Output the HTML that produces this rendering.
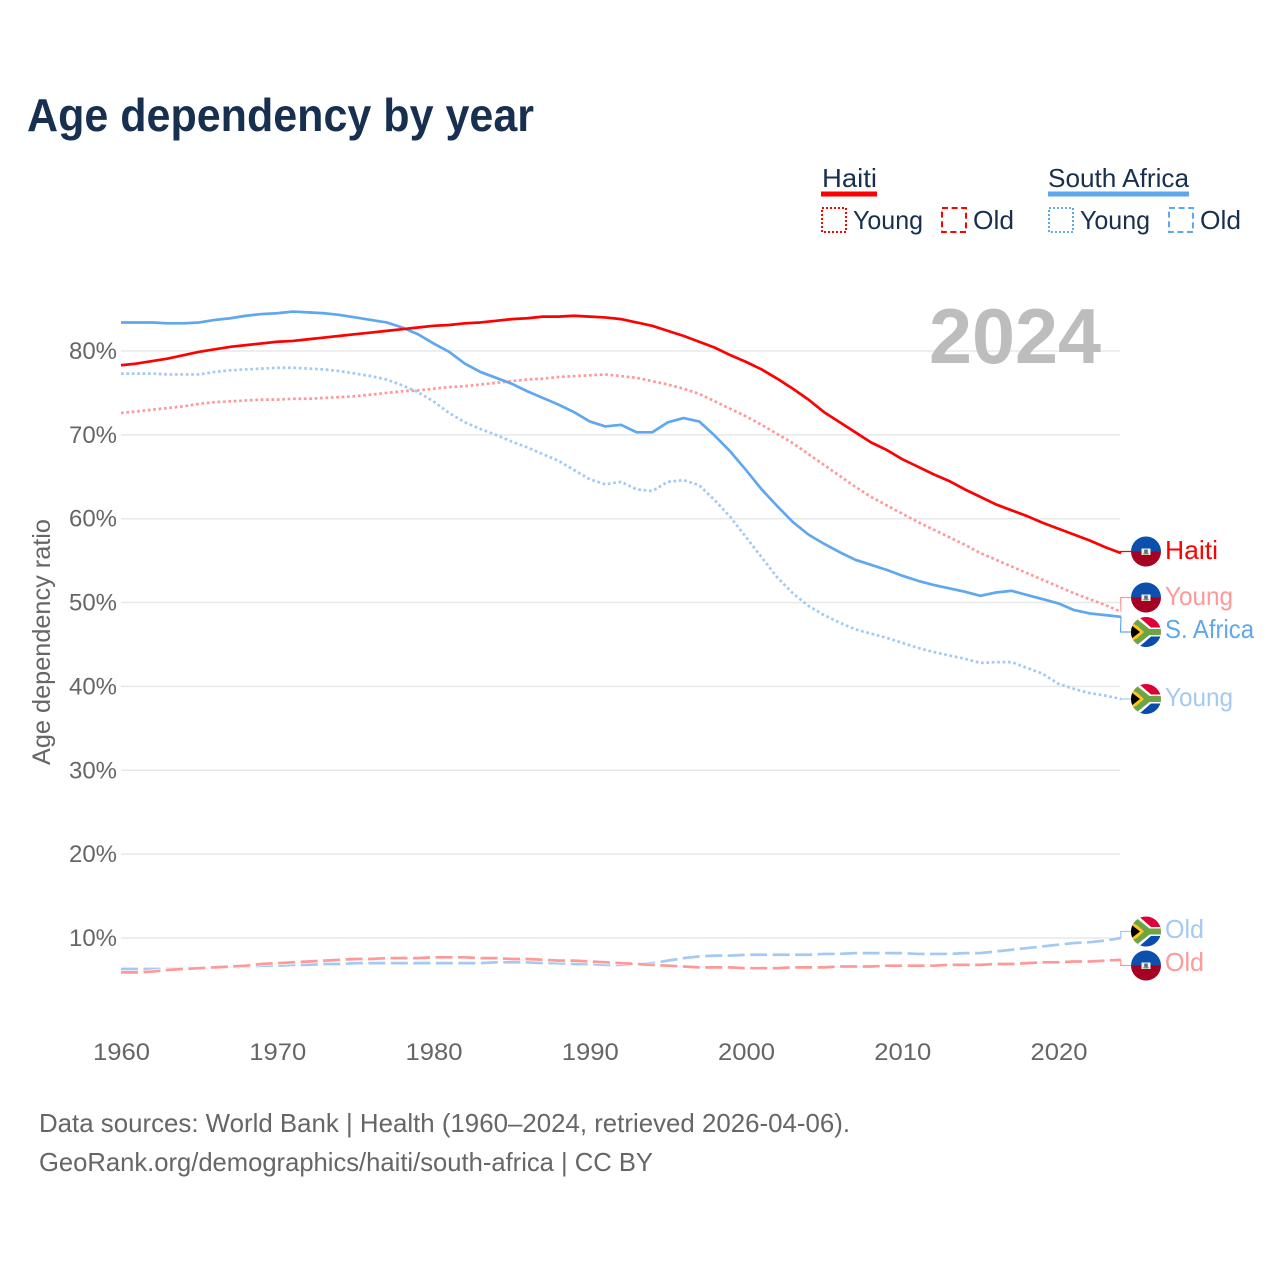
<!DOCTYPE html>
<html lang="en">
<head>
<meta charset="utf-8">
<title>Age dependency by year</title>
<style>
html,body{margin:0;padding:0;background:#fff;}
svg{display:block;font-family:"Liberation Sans",sans-serif;}
</style>
</head>
<body>
<svg id="chart" xmlns="http://www.w3.org/2000/svg" width="1280" height="1280" viewBox="0 0 1280 1280">
<defs>
<clipPath id="flag-clip"><circle cx="0" cy="0" r="15"/></clipPath>
<g id="flag-haiti" clip-path="url(#flag-clip)">
<rect x="-15" y="-15" width="30" height="15" fill="#0a50ac"/>
<rect x="-15" y="0" width="30" height="15" fill="#a60022"/>
<rect x="-4.5" y="-3" width="9" height="6.5" fill="#f4f4f0"/>
<rect x="-1.8" y="-2" width="3.6" height="4.6" fill="#55707a"/>
<rect x="-2.8" y="1.6" width="5.6" height="1.4" fill="#8a9a50"/>
</g>
<g id="flag-south-africa" clip-path="url(#flag-clip)">
<rect x="-15" y="-15" width="30" height="15" fill="#de0036"/>
<rect x="-15" y="0" width="30" height="15" fill="#0a4cae"/>
<path d="M-15-15 L-7-15 L5-4.5 L15-4.5 L15 4.5 L5 4.5 L-7 15 L-15 15Z" fill="#fff"/>
<path d="M-15-13 L-9-13 L3.5-3 L15-3 L15 3 L3.5 3 L-9 13 L-15 13Z" fill="#6da544"/>
<path d="M-15-9.5 L-8.5-6 L-2 0 L-8.5 6 L-15 9.5Z" fill="#ffc425"/>
<path d="M-15-7 L-6 0 L-15 7Z" fill="#000"/>
</g>
</defs>

<text x="27" y="131" font-size="46" font-weight="700" fill="#18304f" textLength="507" lengthAdjust="spacingAndGlyphs">Age dependency by year</text>

<g fill="#18304f" font-size="26">
<text x="822" y="187" textLength="55" lengthAdjust="spacingAndGlyphs">Haiti</text>
<rect x="821" y="191.5" width="56" height="5" fill="#ff0000"/>
<text x="1048" y="187" textLength="141" lengthAdjust="spacingAndGlyphs">South Africa</text>
<rect x="1048" y="191.5" width="141" height="5" fill="#5fa7ee"/>
<rect x="822" y="208" width="24" height="24" fill="none" stroke="#ff0000" stroke-width="2" stroke-dasharray="2 2"/>
<text x="853" y="229" textLength="70" lengthAdjust="spacingAndGlyphs">Young</text>
<rect x="942" y="208" width="24" height="24" fill="none" stroke="#ff0000" stroke-width="2" stroke-dasharray="6 3.6"/>
<text x="973" y="229" textLength="41" lengthAdjust="spacingAndGlyphs">Old</text>
<rect x="1049" y="208" width="24" height="24" fill="none" stroke="#5fa7ee" stroke-width="2" stroke-dasharray="2 2"/>
<text x="1080" y="229" textLength="70" lengthAdjust="spacingAndGlyphs">Young</text>
<rect x="1169" y="208" width="24" height="24" fill="none" stroke="#5fa7ee" stroke-width="2" stroke-dasharray="6 3.6"/>
<text x="1200" y="229" textLength="41" lengthAdjust="spacingAndGlyphs">Old</text>
</g>

<g id="grid"></g>
<text x="929" y="363" font-size="78" font-weight="700" fill="#bdbdbd" textLength="172" lengthAdjust="spacingAndGlyphs">2024</text>
<g id="x-axis"></g>
<g id="y-axis"></g>
<text transform="translate(50,642) rotate(-90)" text-anchor="middle" font-size="25" fill="#666666" textLength="246" lengthAdjust="spacingAndGlyphs">Age dependency ratio</text>
<g id="series"></g>

<g font-size="26">
<use href="#flag-haiti" x="1146" y="551.5"/>
<text x="1165" y="559" fill="#ff0000" textLength="53" lengthAdjust="spacingAndGlyphs">Haiti</text>
<use href="#flag-haiti" x="1146" y="597.5"/>
<text x="1165" y="605" fill="#ff9999" textLength="68" lengthAdjust="spacingAndGlyphs">Young</text>
<use href="#flag-south-africa" x="1146" y="632"/>
<text x="1165" y="638" fill="#5fa7ee" textLength="89" lengthAdjust="spacingAndGlyphs">S. Africa</text>
<use href="#flag-south-africa" x="1146" y="699"/>
<text x="1165" y="706" fill="#a4c9f2" textLength="68" lengthAdjust="spacingAndGlyphs">Young</text>
<use href="#flag-south-africa" x="1146" y="931.5"/>
<text x="1165" y="938" fill="#a4c9f2" textLength="39" lengthAdjust="spacingAndGlyphs">Old</text>
<use href="#flag-haiti" x="1146" y="965.5"/>
<text x="1165" y="971" fill="#ff9999" textLength="39" lengthAdjust="spacingAndGlyphs">Old</text>
</g>

<g font-size="26" fill="#666666">
<text x="39" y="1132" textLength="811" lengthAdjust="spacingAndGlyphs">Data sources: World Bank | Health (1960–2024, retrieved 2026-04-06).</text>
<text x="39" y="1171" textLength="614" lengthAdjust="spacingAndGlyphs">GeoRank.org/demographics/haiti/south-africa | CC BY</text>
</g>

<script>
var startYear = 1960;
var xTicks = [1960, 1970, 1980, 1990, 2000, 2010, 2020];
var yTicks = [10, 20, 30, 40, 50, 60, 70, 80];
var haitiTotal = [78.3,78.5,78.8,79.1,79.5,79.9,80.2,80.5,80.7,80.9,81.1,81.2,81.4,81.6,81.8,82.0,82.2,82.4,82.6,82.8,83.0,83.1,83.3,83.4,83.6,83.8,83.9,84.1,84.1,84.2,84.1,84.0,83.8,83.4,83.0,82.4,81.8,81.1,80.4,79.5,78.7,77.8,76.7,75.5,74.2,72.7,71.5,70.3,69.1,68.2,67.1,66.2,65.3,64.5,63.5,62.6,61.7,61.0,60.3,59.5,58.8,58.1,57.4,56.6,55.9];
var haitiYoung = [72.6,72.8,73.0,73.2,73.4,73.7,73.9,74.0,74.1,74.2,74.2,74.3,74.3,74.4,74.5,74.6,74.8,75.0,75.2,75.3,75.5,75.7,75.8,76.0,76.2,76.4,76.6,76.7,76.9,77.0,77.1,77.2,77.0,76.8,76.4,76.0,75.5,74.9,74.0,73.1,72.2,71.2,70.1,69.0,67.7,66.4,65.1,63.8,62.6,61.6,60.6,59.6,58.7,57.8,56.9,55.9,55.1,54.3,53.5,52.7,51.9,51.1,50.4,49.7,48.9];
var haitiOld = [5.9,5.9,6.0,6.2,6.3,6.4,6.5,6.6,6.7,6.9,7.0,7.1,7.2,7.3,7.4,7.5,7.5,7.6,7.6,7.6,7.7,7.7,7.7,7.6,7.6,7.5,7.5,7.4,7.3,7.3,7.2,7.1,7.0,6.9,6.8,6.7,6.6,6.5,6.5,6.5,6.4,6.4,6.4,6.5,6.5,6.5,6.6,6.6,6.6,6.7,6.7,6.7,6.7,6.8,6.8,6.8,6.9,6.9,7.0,7.1,7.1,7.2,7.2,7.3,7.4];
var southAfricaTotal = [83.4,83.4,83.4,83.3,83.3,83.4,83.7,83.9,84.2,84.4,84.5,84.7,84.6,84.5,84.3,84.0,83.7,83.4,82.8,82.0,80.9,79.9,78.5,77.5,76.8,76.1,75.2,74.4,73.6,72.7,71.6,71.0,71.2,70.3,70.3,71.5,72.0,71.6,69.9,68.0,65.8,63.5,61.5,59.6,58.1,57.0,56.0,55.1,54.5,53.9,53.2,52.6,52.1,51.7,51.3,50.8,51.2,51.4,50.9,50.4,49.9,49.1,48.7,48.5,48.3];
var southAfricaYoung = [77.3,77.3,77.3,77.2,77.2,77.2,77.5,77.7,77.8,77.9,78.0,78.0,77.9,77.8,77.6,77.3,77.0,76.6,75.9,75.1,74.0,72.6,71.5,70.7,70.0,69.2,68.5,67.7,66.9,65.8,64.7,64.1,64.4,63.5,63.3,64.4,64.6,64.0,62.2,60.2,57.8,55.4,53.0,51.1,49.6,48.5,47.6,46.8,46.3,45.8,45.2,44.6,44.1,43.7,43.3,42.8,42.9,42.9,42.2,41.5,40.3,39.7,39.2,38.9,38.5];
var southAfricaOld = [6.3,6.3,6.3,6.3,6.4,6.4,6.5,6.5,6.6,6.7,6.7,6.8,6.8,6.9,6.9,7.0,7.0,7.0,7.0,7.0,7.0,7.0,7.0,7.0,7.1,7.1,7.1,7.0,7.0,6.9,6.9,6.8,6.8,6.9,7.0,7.3,7.6,7.8,7.9,7.9,8.0,8.0,8.0,8.0,8.0,8.1,8.1,8.2,8.2,8.2,8.2,8.1,8.1,8.1,8.2,8.2,8.4,8.6,8.8,9.0,9.2,9.4,9.5,9.7,10.0];

var NS = 'http://www.w3.org/2000/svg';
function xScale(year) { return 121 + (year - startYear) * 15.625; }
function yScale(value) { return 938 - (value - 10) * 8.386; }

var gridGroup = document.getElementById('grid');
var yAxisGroup = document.getElementById('y-axis');
var xAxisGroup = document.getElementById('x-axis');
var seriesGroup = document.getElementById('series');

yTicks.forEach(function (tick) {
  var line = document.createElementNS(NS, 'line');
  
  
  line.setAttribute('x1', 121);
  line.setAttribute('x2', 1120);
  line.setAttribute('y1', yScale(tick));
  line.setAttribute('y2', yScale(tick));
  line.setAttribute('stroke', '#e8e8e8');
  line.setAttribute('stroke-width', '1.5');
  gridGroup.appendChild(line);
  var label = document.createElementNS(NS, 'text');
  
  
  label.setAttribute('x', 69);
  label.setAttribute('y', yScale(tick) + 8);
  label.setAttribute('font-size', '24');
  label.setAttribute('fill', '#666666');
  label.setAttribute('textLength', '48');
  label.setAttribute('lengthAdjust', 'spacingAndGlyphs');
  label.textContent = tick + '%';
  yAxisGroup.appendChild(label);
});

xTicks.forEach(function (tick) {
  var label = document.createElementNS(NS, 'text');
  
  
  label.setAttribute('x', xScale(tick) - 28);
  label.setAttribute('y', 1060);
  label.setAttribute('font-size', '24');
  label.setAttribute('fill', '#666666');
  label.setAttribute('textLength', '57');
  label.setAttribute('lengthAdjust', 'spacingAndGlyphs');
  label.textContent = tick;
  xAxisGroup.appendChild(label);
});

function seriesPath(values) {
  return values.map(function (value, i) {
    return (i ? 'L' : 'M') + xScale(startYear + i).toFixed(2) + ' ' + yScale(value).toFixed(2);
  }).join(' ');
}

function connectorPath(values, labelY) {
  var endX = xScale(startYear + values.length - 1);
  var endY = yScale(values[values.length - 1]);
  return 'M' + endX + ' ' + endY + ' L' + (endX - 0.5) + ' ' + labelY + ' L1132 ' + labelY;
}

function drawSeries(name, values, color, dash, labelY, halo) {
  if (halo) {
    var under = document.createElementNS(NS, 'path');
    
    
    under.setAttribute('d', seriesPath(values));
    under.setAttribute('fill', 'none');
    under.setAttribute('stroke', '#ffffff');
    under.setAttribute('stroke-width', '4');
    under.setAttribute('stroke-dasharray', dash);
    seriesGroup.appendChild(under);
  }
  var path = document.createElementNS(NS, 'path');
  
  
  path.setAttribute('d', seriesPath(values));
  path.setAttribute('fill', 'none');
  path.setAttribute('stroke', color);
  path.setAttribute('stroke-width', '2.7');
  path.setAttribute('stroke-linejoin', 'round');
  if (dash) {
    path.setAttribute('stroke-dasharray', dash);
  }
  seriesGroup.appendChild(path);
  var connector = document.createElementNS(NS, 'path');
  
  
  connector.setAttribute('d', connectorPath(values, labelY));
  connector.setAttribute('fill', 'none');
  connector.setAttribute('stroke', color);
  connector.setAttribute('stroke-width', '1.2');
  seriesGroup.appendChild(connector);
}

drawSeries('line-south-africa-old', southAfricaOld, '#a4c9f2', '17 5.5', 931.5, true);
drawSeries('line-haiti-old', haitiOld, '#ff9999', '17 5.5', 965.5, true);
drawSeries('line-south-africa-young', southAfricaYoung, '#a4c9f2', '2.7 2.7', 699, false);
drawSeries('line-haiti-young', haitiYoung, '#ff9999', '2.7 2.7', 597.5, false);
drawSeries('line-south-africa-total', southAfricaTotal, '#5fa7ee', '', 632, false);
drawSeries('line-haiti-total', haitiTotal, '#ff0000', '', 551.5, false);
</script>
</svg>
</body>
</html>
